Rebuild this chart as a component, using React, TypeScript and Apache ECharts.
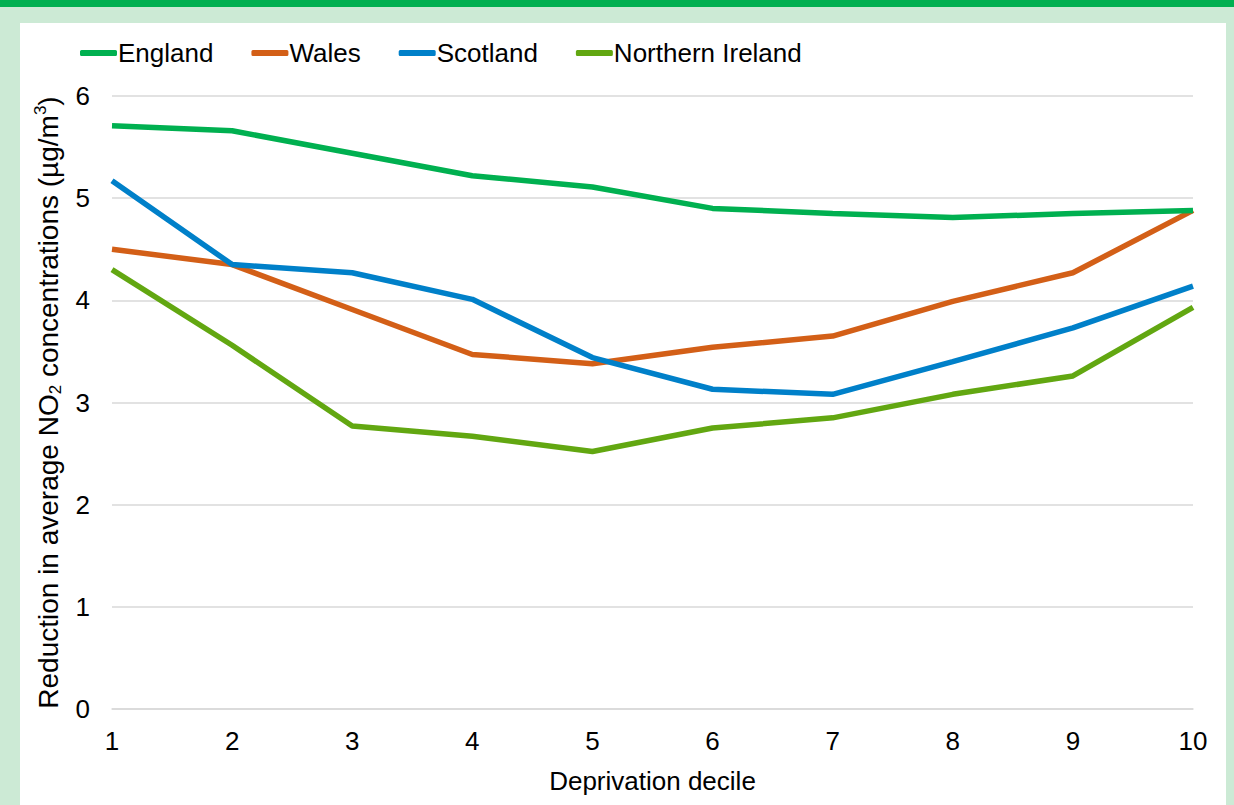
import React, { useEffect, useRef } from "react";
import * as echarts from "echarts";

const deciles = ["1", "2", "3", "4", "5", "6", "7", "8", "9", "10"];
const england = [5.71, 5.66, 5.44, 5.22, 5.11, 4.9, 4.85, 4.81, 4.85, 4.88];
const wales = [4.5, 4.35, 3.91, 3.47, 3.38, 3.54, 3.65, 3.99, 4.27, 4.88];
const scotland = [5.17, 4.35, 4.27, 4.01, 3.44, 3.13, 3.08, 3.4, 3.73, 4.14];
const northernIreland = [4.3, 3.56, 2.77, 2.67, 2.52, 2.75, 2.85, 3.08, 3.26, 3.93];
const seriesNames = ["England", "Wales", "Scotland", "Northern Ireland"];
const seriesColors = ["#00B050", "#D35F17", "#0080C9", "#62A711"];

const FONT = "'Liberation Sans', Arial, sans-serif";

export default function App() {
  const ref = useRef<HTMLDivElement>(null);
  useEffect(() => {
    if (!ref.current) return;
    const chart = echarts.init(ref.current, undefined, { renderer: "svg" });
    const data = [england, wales, scotland, northernIreland];
    chart.setOption({
      animation: false,
      backgroundColor: "transparent",
      textStyle: { fontFamily: FONT },
      legend: {
        left: 75,
        top: 35,
        icon: "roundRect",
        itemWidth: 37,
        itemHeight: 6,
        itemGap: 38,
        textStyle: { fontSize: 26, color: "#000", fontFamily: FONT, padding: [0, 0, 0, -4] },
        data: seriesNames,
      },
      grid: { left: 112, right: 41, top: 96, bottom: 96, containLabel: false },
      xAxis: {
        type: "category",
        data: deciles,
        boundaryGap: false,
        name: "Deprivation decile",
        nameLocation: "middle",
        nameGap: 59,
        nameTextStyle: { fontSize: 26, color: "#000", fontFamily: FONT },
        axisLine: { show: true, lineStyle: { color: "#D9D9D9", width: 1.5 } },
        axisTick: { show: false },
        axisLabel: { fontSize: 26, color: "#000", margin: 19, fontFamily: FONT },
        splitLine: { show: false },
      },
      yAxis: {
        type: "value",
        min: 0,
        max: 6,
        interval: 1,
        name: "Reduction in average NO{sub|2} concentrations (µg/m{sup|3})",
        nameLocation: "middle",
        nameGap: 48,
        nameTextStyle: {
          fontSize: 28,
          color: "#000",
          fontFamily: FONT,
          lineHeight: 32,
          rich: {
            sub: { fontSize: 17, verticalAlign: "bottom", lineHeight: 32, fontFamily: FONT, color: "#000" },
            sup: { fontSize: 17, verticalAlign: "top", lineHeight: 32, fontFamily: FONT, color: "#000" },
          },
        },
        axisLine: { show: false },
        axisTick: { show: false },
        axisLabel: { fontSize: 26, color: "#000", margin: 22, fontFamily: FONT },
        splitLine: { lineStyle: { color: "#D9D9D9", width: 1.5 } },
      },
      series: seriesNames.map((n, i) => ({
        name: n,
        type: "line",
        data: data[i],
        symbol: "none",
        color: seriesColors[i],
        lineStyle: { width: 5.5, color: seriesColors[i] },
        z: 2 + (i === 0 ? 3 : i === 1 ? 1 : i === 2 ? 2 : 0),
      })),
    });
    return () => chart.dispose();
  }, []);
  return (
    <div style={{ position: "fixed", left: 0, top: 0, width: 1234, height: 805, background: "#CCEAD5", overflow: "hidden" }}>
      <div style={{ position: "absolute", left: 0, top: 0, width: 1234, height: 7, background: "#00B050" }} />
      <div style={{ position: "absolute", left: 20, top: 23, width: 1206, height: 782, background: "#FFFFFF" }} />
      <div ref={ref} style={{ position: "absolute", left: 0, top: 0, width: 1234, height: 805 }} />
    </div>
  );
}
